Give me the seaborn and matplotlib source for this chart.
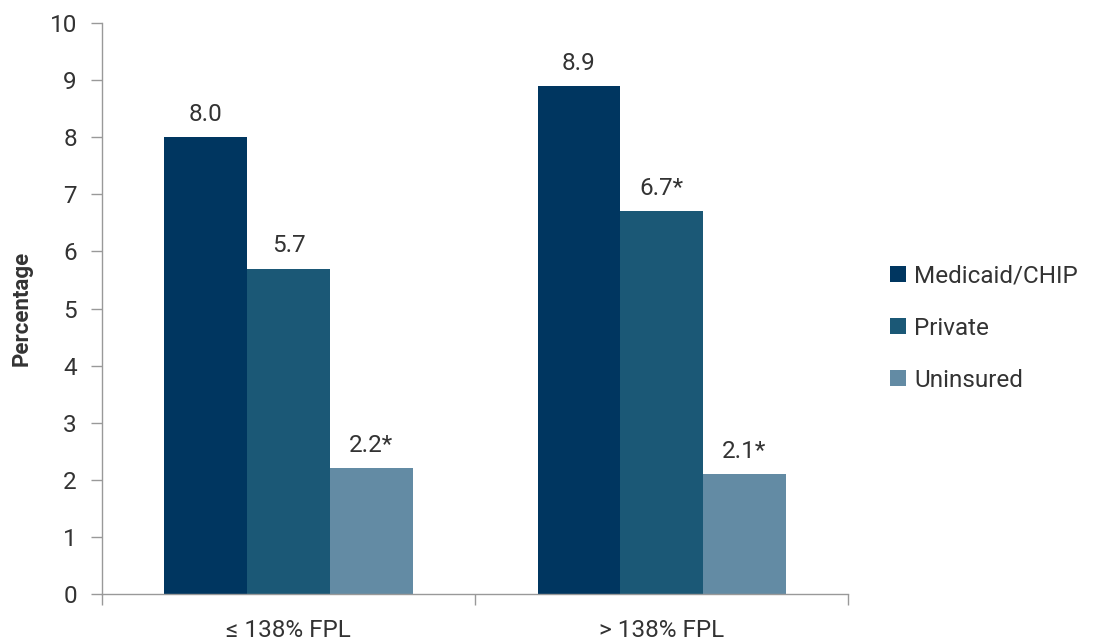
import matplotlib
matplotlib.use("Agg")
import matplotlib.pyplot as plt
import seaborn as sns
import pandas as pd
from matplotlib.patches import Patch

categories = ["≤ 138% FPL", "> 138% FPL"]
series = ["Medicaid/CHIP", "Private", "Uninsured"]
medicaid = [8.0, 8.9]
private = [5.7, 6.7]
uninsured = [2.2, 2.1]
labels_medicaid = ["8.0", "8.9"]
labels_private = ["5.7", "6.7*"]
labels_uninsured = ["2.2*", "2.1*"]
colors = ["#003660", "#1b5876", "#638ba4"]

rows = []
for s, vals in zip(series, [medicaid, private, uninsured]):
    for c, v in zip(categories, vals):
        rows.append({"group": c, "series": s, "value": v})
df = pd.DataFrame(rows)

sns.set_theme(style="white")
plt.rcParams["font.family"] = ["Roboto", "DejaVu Sans"]
text_color = "#333333"
fs = 17.5

fig = plt.figure(figsize=(10.96, 6.41), dpi=100)
ax = fig.add_axes([0.093, 0.0733, 0.681, 0.8907])

sns.barplot(data=df, x="group", y="value", hue="series", order=categories,
            hue_order=series, palette=colors, width=0.665, saturation=1,
            linewidth=0, ax=ax, legend=False)

all_labels = [labels_medicaid, labels_private, labels_uninsured]
for cont, labs in zip(ax.containers, all_labels):
    ax.bar_label(cont, labels=labs, padding=8, fontsize=fs, color=text_color)

ax.set_ylim(0, 10)
ax.set_xlim(-0.5, 1.5)
ax.set_yticks(range(0, 11))
ax.tick_params(axis="y", which="major", length=8, width=1, color="#999999",
               labelsize=fs, labelcolor=text_color, pad=10, left=True)
ax.set_xticks([0, 1])
ax.set_xticklabels(categories)
ax.tick_params(axis="x", which="major", length=0, labelsize=fs,
               labelcolor=text_color, pad=18)
ax.set_xticks([-0.5, 0.5, 1.5], minor=True)
ax.tick_params(axis="x", which="minor", length=8, width=1, color="#999999",
               bottom=True)
ax.set_xlabel("")
ax.set_ylabel("Percentage", fontsize=16, fontweight="bold", color=text_color,
              labelpad=12)

for side in ["top", "right"]:
    ax.spines[side].set_visible(False)
for side in ["left", "bottom"]:
    ax.spines[side].set_color("#999999")
    ax.spines[side].set_linewidth(1)

handles = [Patch(facecolor=c, edgecolor="none") for c in colors]
leg = fig.legend(handles, series, loc="center left",
                 bbox_to_anchor=(0.792, 0.488), frameon=False, fontsize=fs,
                 handlelength=0.65, handleheight=0.65, handletextpad=0.35,
                 labelspacing=1.2)
for t in leg.get_texts():
    t.set_color(text_color)

fig.savefig("out.png", dpi=100)
